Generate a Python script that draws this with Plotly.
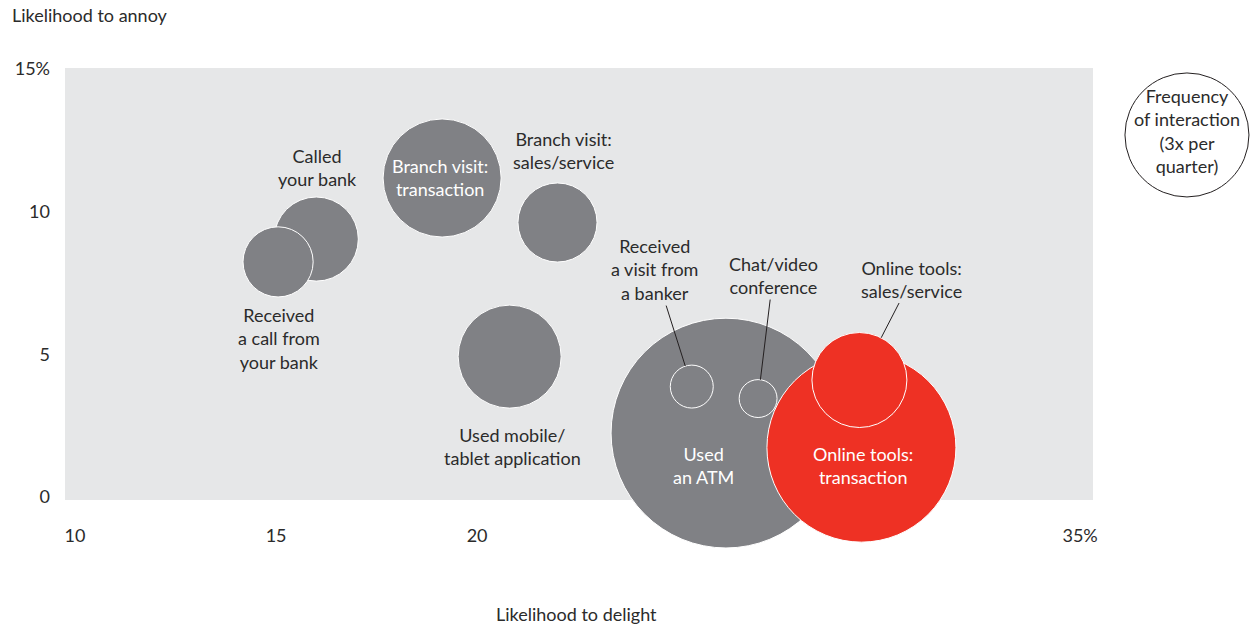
import plotly.graph_objects as go

# channel data: likelihood to delight (x, %), likelihood to annoy (y, %),
# frequency of interaction (times per quarter)
channels = ["Called your bank", "Received a call from your bank",
            "Branch visit: transaction", "Branch visit: sales/service",
            "Used mobile/tablet application", "Used an ATM",
            "Received a visit from a banker", "Chat/video conference",
            "Online tools: transaction", "Online tools: sales/service"]
delight = [16.0, 15.05, 19.13, 22.0, 20.81, 26.19, 25.34, 26.99, 29.56, 29.51]
annoy = [9.04, 8.24, 11.18, 9.62, 4.92, 2.24, 3.87, 3.45, 1.73, 4.10]
frequency = [1.38, 0.96, 2.72, 1.22, 2.07, 10.3, 0.36, 0.28, 6.97, 1.76]
is_online = [False] * 8 + [True, True]

x_ticks = [10, 15, 20, 35]
x_ticktext = ["10", "15", "20", "35%"]
y_ticks = [0, 5, 10, 15]
y_ticktext = ["0", "5", "10", "15%"]

legend_freq = 3  # reference bubble: 3x per quarter

GRAY = "#808185"
RED = "#ee3124"
BG = "#e6e7e8"
TXT = "#2b2b2b"
FONT = "Lato"

# area-proportional bubbles; reference bubble has 62px radius
LEGEND_R = 62
sizeref = legend_freq / (2 * LEGEND_R ** 2)

fig = go.Figure()
fig.add_trace(go.Scatter(
    x=delight, y=annoy, mode="markers",
    marker=dict(size=frequency, sizemode="area", sizeref=sizeref,
                color=[RED if o else GRAY for o in is_online],
                opacity=1, line=dict(color="white", width=1)),
    cliponaxis=False, hoverinfo="text", hovertext=channels,
))

# labels: (text, colour, xshift, yshift) relative to the bubble centre
labels = {
    0: ("Called<br>your bank", TXT, 1, 72),
    1: ("Received<br>a call from<br>your bank", TXT, 1, -77),
    2: ("Branch visit:<br>transaction", "white", -2, 1),
    3: ("Branch visit:<br>sales/service", TXT, 6, 72),
    4: ("Used mobile/<br>tablet application", TXT, 3, -90),
    5: ("Used<br>an ATM", "white", -22, -32),
    8: ("Online tools:<br>transaction", "white", 2, -18),
}
for i, (txt, col, dx, dy) in labels.items():
    fig.add_annotation(x=delight[i], y=annoy[i], text=txt, showarrow=False,
                       xshift=dx, yshift=dy,
                       font=dict(family=FONT, size=18, color=col))

# labels with leader lines, offset in pixels, line stops at the bubble edge
callouts = {
    6: ("Received<br>a visit from<br>a banker", -37, -117),
    7: ("Chat/video<br>conference", 15, -123),
    9: ("Online tools:<br>sales/service", 52, -101),
}
for i, (txt, ax, ay) in callouts.items():
    r = (frequency[i] / (2 * sizeref)) ** 0.5
    fig.add_annotation(x=delight[i], y=annoy[i], text=txt, showarrow=True,
                       ax=ax, ay=ay, arrowhead=0, arrowwidth=1,
                       arrowcolor="#231f20", standoff=r,
                       font=dict(family=FONT, size=18, color=TXT))

# frequency key circle, outside the plot area
key_x, key_y = 1.0914, 0.845
fig.add_shape(type="circle", xref="paper", yref="paper",
              xsizemode="pixel", ysizemode="pixel",
              xanchor=key_x, yanchor=key_y,
              x0=-LEGEND_R, x1=LEGEND_R, y0=-LEGEND_R, y1=LEGEND_R,
              line=dict(color="#231f20", width=1), fillcolor="rgba(0,0,0,0)")
fig.add_annotation(xref="paper", yref="paper", x=key_x, y=key_y,
                   xanchor="center", yanchor="middle", yshift=4,
                   text="Frequency<br>of interaction<br>(3x per<br>quarter)",
                   showarrow=False, font=dict(family=FONT, size=18, color=TXT))

# axis titles
fig.add_annotation(xref="paper", yref="paper", x=-0.0535, y=1.123,
                   xanchor="left", yanchor="middle", text="Likelihood to annoy",
                   showarrow=False, font=dict(family=FONT, size=18, color=TXT))
fig.add_annotation(xref="paper", yref="paper", x=0.498, y=-0.264,
                   xanchor="center", yanchor="middle", text="Likelihood to delight",
                   showarrow=False, font=dict(family=FONT, size=18, color=TXT))

fig.update_xaxes(range=[9.75, 35.32], tickvals=x_ticks, ticktext=x_ticktext,
                 showgrid=False, zeroline=False, showline=False,
                 ticks="", ticklabelstandoff=23,
                 tickfont=dict(family=FONT, size=18, color=TXT))
fig.update_yaxes(range=[-0.105, 15.035], tickvals=y_ticks, ticktext=y_ticktext,
                 showgrid=False, zeroline=False, showline=False,
                 ticks="", ticklabelstandoff=14,
                 tickfont=dict(family=FONT, size=18, color=TXT))

fig.update_layout(
    width=1256, height=629,
    margin=dict(l=65, r=163, t=68, b=129),
    plot_bgcolor=BG, paper_bgcolor="white",
    showlegend=False,
    font=dict(family=FONT, size=18, color=TXT),
)

fig.write_html("out.html", config={"displayModeBar": False},
               post_script="document.body.style.margin='0';")
